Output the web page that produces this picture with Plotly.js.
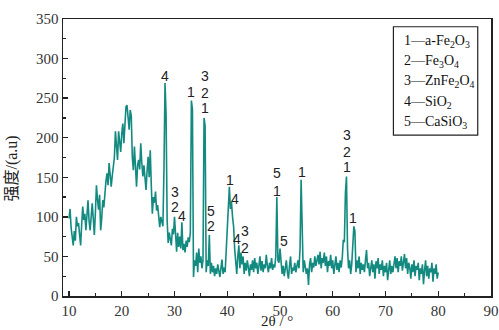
<!DOCTYPE html>
<html>
<head>
<meta charset="utf-8">
<script src="https://cdn.plot.ly/plotly-3.0.1.min.js"></script>
<style>html,body{margin:0;padding:0;background:#fff;}#chart{width:499px;height:330px;}</style>
</head>
<body>
<div id="chart"></div>
<script>
// 2θ (degrees)
const twoTheta = [
10,10.2,10.4,10.6,10.8, 11,11.2,11.4,11.6,11.8, 12,12.2,12.4,12.6,12.8, 13,13.2,13.4,13.6,13.8,
14,14.2,14.4,14.6,14.8, 15,15.2,15.4,15.6,15.8, 16,16.2,16.4,16.6,16.8, 17,17.2,17.4,17.6,17.8,
18,18.2,18.4,18.6,18.8, 19,19.2,19.4,19.6,19.8, 20,20.2,20.4,20.6,20.8, 21,21.2,21.4,21.6,21.8,
22,22.2,22.4,22.6,22.8, 23,23.2,23.4,23.6,23.8, 24,24.2,24.4,24.6,24.8, 25,25.2,25.4,25.6,25.8,
26,26.2,26.4,26.6,26.8, 27,27.2,27.4,27.6,27.8, 28,28.2,28.4,28.6,28.8, 29,29.2,29.4,29.6,29.8,
30,30.2,30.4,30.6,30.8, 31,31.2,31.4,31.6,31.8, 32,32.2,32.4,32.6,32.8, 33,33.2,33.4,33.6,33.8,
34,34.2,34.4,34.6,34.8, 35,35.2,35.4,35.6,35.8, 36,36.2,36.4,36.6,36.8, 37,37.2,37.4,37.6,37.8,
38,38.2,38.4,38.6,38.8, 39,39.2,39.4,39.6,39.8, 40,40.2,40.4,40.6,40.8, 41,41.2,41.4,41.6,41.8,
42,42.2,42.4,42.6,42.8, 43,43.2,43.4,43.6,43.8, 44,44.2,44.4,44.6,44.8, 45,45.2,45.4,45.6,45.8,
46,46.2,46.4,46.6,46.8, 47,47.2,47.4,47.6,47.8, 48,48.2,48.4,48.6,48.8, 49,49.2,49.4,49.6,49.8,
50,50.2,50.4,50.6,50.8, 51,51.2,51.4,51.6,51.8, 52,52.2,52.4,52.6,52.8, 53,53.2,53.4,53.6,53.8,
54,54.2,54.4,54.6,54.8, 55,55.2,55.4,55.6,55.8, 56,56.2,56.4,56.6,56.8, 57,57.2,57.4,57.6,57.8,
58,58.2,58.4,58.6,58.8, 59,59.2,59.4,59.6,59.8, 60,60.2,60.4,60.6,60.8, 61,61.2,61.4,61.6,61.8,
62,62.2,62.4,62.6,62.8, 63,63.2,63.4,63.6,63.8, 64,64.2,64.4,64.6,64.8, 65,65.2,65.4,65.6,65.8,
66,66.2,66.4,66.6,66.8, 67,67.2,67.4,67.6,67.8, 68,68.2,68.4,68.6,68.8, 69,69.2,69.4,69.6,69.8,
70,70.2,70.4,70.6,70.8, 71,71.2,71.4,71.6,71.8, 72,72.2,72.4,72.6,72.8, 73,73.2,73.4,73.6,73.8,
74,74.2,74.4,74.6,74.8, 75,75.2,75.4,75.6,75.8, 76,76.2,76.4,76.6,76.8, 77,77.2,77.4,77.6,77.8,
78,78.2,78.4,78.6,78.8, 79,79.2,79.4,79.6,79.8, 80
];
// intensity (a.u.)
const intensity = [
98,110,86,72,64, 82,70,100,88,92, 75,64,90,113,96, 104,83,110,121,95,
83,100,117,98,77, 105,140,122,109,128, 83,98,121,112,134, 145,155,140,168,150,
138,152,163,175,208, 186,172,208,195,182, 205,218,193,215,239, 241,224,210,235,228,
175,159,189,170,138, 165,172,160,193,168, 151,165,145,134,158, 176,150,184,140,104,
125,118,132,108,115, 98,87,100,92,88, 160,269,230,96,67, 80,72,64,85,78,
100,70,56,80,62, 75,60,93,58,66, 55,70,62,74,68, 80,247,236,24,45,
38,55,30,60,42, 50,35,45,225,215, 30,45,38,77,28, 42,30,38,25,35,
28,40,30,24,35, 46,28,36,30,55, 85,100,138,110,119, 100,88,60,45,28,
50,64,35,55,40, 50,28,42,32,45, 36,25,40,33,45, 30,48,35,42,28,
38,50,32,44,30, 40,35,52,38,30, 42,35,48,33,40, 36,50,125,45,42,
60,40,28,38,25, 35,45,30,22,38, 50,28,36,32,42, 30,38,45,35,60,
147,80,30,45,38, 28,35,14,40,48, 30,42,36,50,38, 45,52,40,56,35,
48,42,55,38,50, 30,44,38,52,35, 45,28,40,50,33, 42,30,45,36,48,
71,68,130,151,60, 35,45,28,40,70, 88,82,30,45,35, 50,28,42,33,40,
30,45,58,35,42, 25,38,45,30,40, 22,44,35,48,28, 40,33,45,25,38,
30,42,20,35,45, 28,38,30,42,50, 35,48,30,44,38, 50,32,45,53,35,
48,28,42,36,22, 40,30,45,25,38, 33,42,20,35,28, 40,15,32,45,25,
38,22,35,30,42, 18,35,28,40,22, 30
];
// peak labels
const labelText = ["4","1","3","2","1","3","2","4","5","2","1","4","4","3","2","5","1","5","1","3","2","1","1"];
const labelX    = [28.27,33.1,35.8,35.8,35.8,30.1,30.1,31.4,36.9,36.9,40.55,41.4,41.8,43.4,43.4,49.4,49.4,50.7,54.1,62.7,62.7,62.7,63.9];
const labelY    = [278,258,278,257,237,132,113,101,107,88,147,123,72,82,61,155,133,69,157,203,182,163,98];
// legend entries
const legendEntries = ["1—a-Fe<sub>2</sub>O<sub>3</sub>","2—Fe<sub>3</sub>O<sub>4</sub>","3—ZnFe<sub>2</sub>O<sub>4</sub>","4—SiO<sub>2</sub>","5—CaSiO<sub>3</sub>"];
const xTicks = [10,20,30,40,50,60,70,80,90];
const yTicks = [0,50,100,150,200,250,300,350];
const xTitle = "2θ / °";
const yTitle = "强度/(a.u)";

const serif = "'Liberation Serif', 'Times New Roman', serif";
const sans = "'Liberation Sans', Arial, sans-serif";
const annotations = [];
for (let i = 0; i < labelText.length; i++) {
  annotations.push({x: labelX[i], y: labelY[i], xref: "x", yref: "y", text: labelText[i], showarrow: false,
    font: {family: sans, size: 14, color: "#222"}, xanchor: "center", yanchor: "middle"});
}
const legendY = [0.918, 0.845, 0.773, 0.700, 0.625];
for (let i = 0; i < legendEntries.length; i++) {
  annotations.push({x: 0.792, y: legendY[i], xref: "paper", yref: "paper", text: legendEntries[i], showarrow: false,
    font: {family: serif, size: 14, color: "#111"}, xanchor: "left", yanchor: "middle"});
}
// axis titles placed as annotations to match reference positions
annotations.push({x: 0.5, y: -0.1227, xref: "paper", yref: "paper", text: xTitle, showarrow: false, borderpad: 0,
  font: {family: serif, size: 15, color: "#222"}, xanchor: "center", yanchor: "bottom"});
annotations.push({x: -0.118, y: 0.462, xref: "paper", yref: "paper", text: yTitle, showarrow: false, textangle: -90,
  font: {family: "'Liberation Serif', 'Noto Sans CJK SC', serif", size: 16, color: "#222"}, xanchor: "center", yanchor: "middle"});

const trace = {x: twoTheta, y: intensity, type: "scatter", mode: "lines",
  line: {color: "#138a80", width: 1.6}, hoverinfo: "skip"};

const layout = {
  width: 499, height: 330,
  margin: {l: 63, r: 8, t: 19, b: 34},
  paper_bgcolor: "#fff", plot_bgcolor: "#fff",
  showlegend: false,
  xaxis: {range: [8.86, 90], tickvals: xTicks, ticktext: xTicks.map(String), ticks: "inside", ticklen: 5, tickwidth: 1.3,
    tickcolor: "#222", showline: true, linecolor: "#222", linewidth: 1.5, mirror: true, showgrid: false, zeroline: false,
    minor: {dtick: 5, ticks: "inside", ticklen: 3, tickwidth: 1.2, tickcolor: "#222", showgrid: false},
    tickfont: {family: serif, size: 15, color: "#333"}},
  yaxis: {range: [0, 350], tickvals: yTicks, ticktext: yTicks.map(String), ticks: "inside", ticklen: 5, tickwidth: 1.3,
    tickcolor: "#222", showline: true, linecolor: "#222", linewidth: 1.5, mirror: true, showgrid: false, zeroline: false,
    minor: {dtick: 25, ticks: "inside", ticklen: 3, tickwidth: 1.2, tickcolor: "#222", showgrid: false},
    tickfont: {family: serif, size: 15, color: "#333"}},
  shapes: [{type: "rect", xref: "paper", yref: "paper", x0: 0.772, x1: 0.969, y0: 0.581, y1: 0.972,
    line: {color: "#222", width: 1.2}, fillcolor: "rgba(0,0,0,0)"}],
  annotations: annotations
};
Plotly.newPlot("chart", [trace], layout, {staticPlot: true, displayModeBar: false});
</script>
</body>
</html>
